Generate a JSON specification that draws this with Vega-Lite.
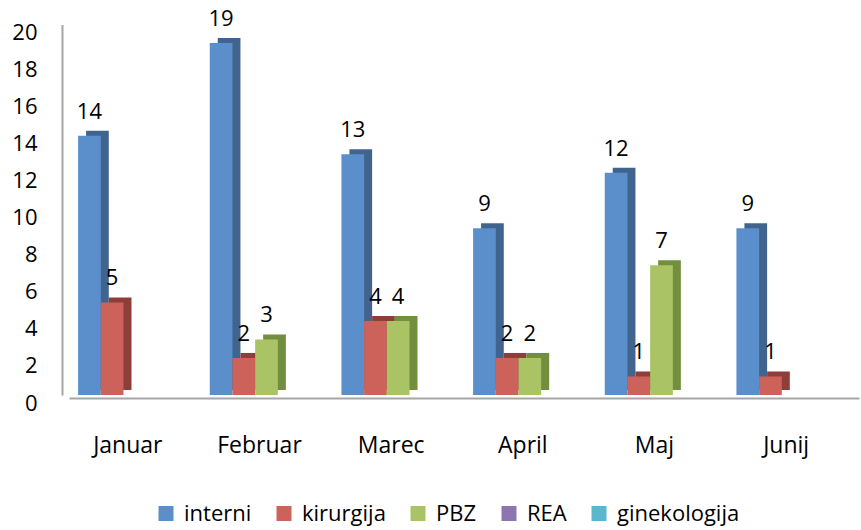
{
  "$schema": "https://vega.github.io/schema/vega-lite/v6.json",
  "width": 790,
  "height": 370.5,
  "autosize": "none",
  "padding": {"left": 69, "top": 24.5, "right": 2, "bottom": 135},
  "background": "white",
  "config": {
    "view": {"stroke": null},
    "font": "Open Sans",
    "text": {"font": "Open Sans"}
  },
  "data": {
    "values": [
      {"month": "Januar", "series": "interni", "value": 14},
      {"month": "Januar", "series": "kirurgija", "value": 5},
      {"month": "Januar", "series": "PBZ", "value": 0},
      {"month": "Januar", "series": "REA", "value": 0},
      {"month": "Januar", "series": "ginekologija", "value": 0},
      {"month": "Februar", "series": "interni", "value": 19},
      {"month": "Februar", "series": "kirurgija", "value": 2},
      {"month": "Februar", "series": "PBZ", "value": 3},
      {"month": "Februar", "series": "REA", "value": 0},
      {"month": "Februar", "series": "ginekologija", "value": 0},
      {"month": "Marec", "series": "interni", "value": 13},
      {"month": "Marec", "series": "kirurgija", "value": 4},
      {"month": "Marec", "series": "PBZ", "value": 4},
      {"month": "Marec", "series": "REA", "value": 0},
      {"month": "Marec", "series": "ginekologija", "value": 0},
      {"month": "April", "series": "interni", "value": 9},
      {"month": "April", "series": "kirurgija", "value": 2},
      {"month": "April", "series": "PBZ", "value": 2},
      {"month": "April", "series": "REA", "value": 0},
      {"month": "April", "series": "ginekologija", "value": 0},
      {"month": "Maj", "series": "interni", "value": 12},
      {"month": "Maj", "series": "kirurgija", "value": 1},
      {"month": "Maj", "series": "PBZ", "value": 7},
      {"month": "Maj", "series": "REA", "value": 0},
      {"month": "Maj", "series": "ginekologija", "value": 0},
      {"month": "Junij", "series": "interni", "value": 9},
      {"month": "Junij", "series": "kirurgija", "value": 1},
      {"month": "Junij", "series": "PBZ", "value": 0},
      {"month": "Junij", "series": "REA", "value": 0},
      {"month": "Junij", "series": "ginekologija", "value": 0}
    ]
  },
  "encoding": {
    "x": {
      "field": "month",
      "type": "nominal",
      "sort": ["Januar", "Februar", "Marec", "April", "Maj", "Junij"],
      "scale": {"paddingInner": 0.138, "paddingOuter": 0.069},
      "axis": {
        "title": null,
        "labelAngle": 0,
        "labelFont": "Open Sans",
        "labelFontSize": 23,
        "labelColor": "#000000",
        "labelBaseline": "alphabetic",
        "labelPadding": 54,
        "labelOffset": -7,
        "ticks": false,
        "tickSize": 0,
        "offset": 3,
        "domainColor": "#A6A6A6",
        "domainWidth": 2
      }
    },
    "y": {
      "field": "value",
      "type": "quantitative",
      "scale": {"domain": [0, 20], "nice": false},
      "axis": {
        "title": null,
        "values": [0, 2, 4, 6, 8, 10, 12, 14, 16, 18, 20],
        "grid": false,
        "ticks": false,
        "tickSize": 0,
        "labelFont": "Open Sans",
        "labelFontSize": 22,
        "labelColor": "#000000",
        "labelPadding": 25,
        "labelOffset": 8,
        "offset": 7,
        "domainColor": "#A6A6A6",
        "domainWidth": 2
      }
    }
  },
  "resolve": {
    "scale": {"color": "independent", "xOffset": "independent"},
    "legend": {"color": "independent"}
  },
  "layer": [
    {
      "transform": [{"filter": "datum.value > 0"}],
      "mark": {"type": "bar", "yOffset": -5},
      "encoding": {
        "xOffset": {
          "field": "series",
          "type": "nominal",
          "scale": {"type": "band", "domain": ["interni", "kirurgija", "PBZ", "REA", "ginekologija"], "range": [8, 121.5], "paddingInner": 0, "paddingOuter": 0}
        },
        "color": {
          "field": "series",
          "type": "nominal",
          "legend": null,
          "scale": {
            "domain": ["interni", "kirurgija", "PBZ", "REA", "ginekologija"],
            "range": ["#41648F", "#8E3E39", "#728E3F", "#634D80", "#3A8198"]
          }
        }
      }
    },
    {
      "mark": {"type": "bar"},
      "transform": [{"filter": "datum.value > 0"}],
      "encoding": {
        "xOffset": {
          "field": "series",
          "type": "nominal",
          "scale": {"type": "band", "domain": ["interni", "kirurgija", "PBZ", "REA", "ginekologija"], "paddingInner": 0, "paddingOuter": 0}
        },
        "color": {
          "field": "series",
          "type": "nominal",
          "scale": {
            "domain": ["interni", "kirurgija", "PBZ", "REA", "ginekologija"],
            "range": ["#5B8FCB", "#CD625A", "#AAC465", "#8D76AF", "#5BB6D0"]
          },
          "legend": {
            "title": null,
            "orient": "none",
            "direction": "horizontal",
            "legendX": 86,
            "legendY": 478,
            "padding": 0,
            "symbolType": "square",
            "symbolSize": 225,
            "symbolStrokeWidth": 0,
            "labelFont": "Open Sans",
            "labelFontSize": 22,
            "labelColor": "#000000",
            "labelOffset": 7,
            "columnPadding": 21
          }
        }
      }
    },
    {
      "transform": [{"filter": "datum.value > 0"}],
      "mark": {"type": "text", "baseline": "alphabetic", "dy": -17, "fontSize": 22, "color": "#000000", "font": "Open Sans"},
      "encoding": {
        "xOffset": {
          "field": "series",
          "type": "nominal",
          "scale": {"type": "band", "domain": ["interni", "kirurgija", "PBZ", "REA", "ginekologija"], "paddingInner": 0, "paddingOuter": 0}
        },
        "text": {"field": "value", "type": "quantitative"}
      }
    }
  ]
}
